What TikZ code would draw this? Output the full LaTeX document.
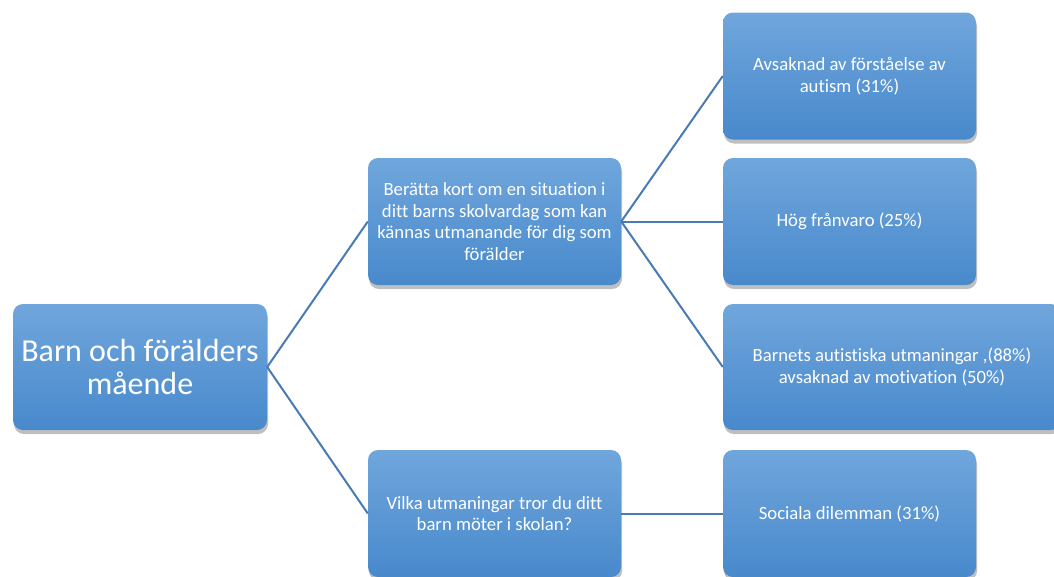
\documentclass[tikz,border=0pt]{standalone}
\usepackage{fontspec}
\setmainfont{Carlito}[Ligatures=NoCommon]
\usetikzlibrary{shadows}
\definecolor{boxtop}{RGB}{112,166,220}
\definecolor{boxbot}{RGB}{72,137,204}
\definecolor{linkc}{RGB}{74,122,180}
\tikzset{
  box/.style={rectangle, rounded corners=10pt, top color=boxtop, bottom color=boxbot,
    draw=none, text=white, align=center, inner sep=0pt,
    minimum width=253pt, minimum height=127pt,
    drop shadow={shadow xshift=1pt, shadow yshift=-4pt, fill=black, opacity=0.25}},
  small/.style={font=\fontsize{18.7}{21.5}\selectfont},
  big/.style={font=\fontsize{32}{33}\selectfont},
  link/.style={draw=linkc, line width=2pt}
}
\begin{document}
\begin{tikzpicture}[x=1pt,y=-1pt]
\useasboundingbox (0,0) rectangle (1054,576);
\clip (0,0) rectangle (1054,576);
\node[box, big, minimum width=254pt, minimum height=126pt] (root) at (140,367) {Barn och förälders\\mående};
\node[box, small] (q1) at (494.5,221.5) {Berätta kort om en situation i\\ditt barns skolvardag som kan\\kännas utmanande för dig som\\förälder};
\node[box, small] (q2) at (494.5,513.5) {Vilka utmaningar tror du ditt\\barn möter i skolan?};
\node[box, small] (a1) at (849.5,76) {Avsaknad av förståelse av\\autism (31\%)};
\node[box, small] (a2) at (849.5,221.5) {Hög frånvaro (25\%)};
\node[box, small, minimum width=338pt, minimum height=126pt] (a3) at (892,367) {Barnets autistiska utmaningar ,(88\%)\\avsaknad av motivation (50\%)};
\node[box, small] (a4) at (849.5,513.5) {Sociala dilemman (31\%)};
\draw[link] (root.east) -- (q1.west);
\draw[link] (root.east) -- (q2.west);
\draw[link] (q1.east) -- (a1.west);
\draw[link] (q1.east) -- (a2.west);
\draw[link] (q1.east) -- (a3.west);
\draw[link] (q2.east) -- (a4.west);
\end{tikzpicture}
\end{document}
